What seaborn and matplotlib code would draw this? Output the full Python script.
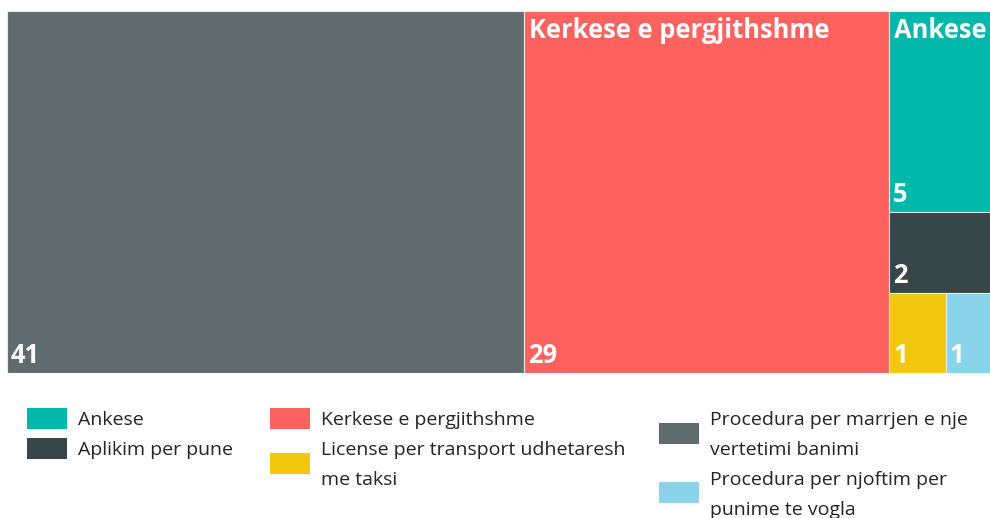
import matplotlib
matplotlib.use("Agg")
import matplotlib.pyplot as plt
from matplotlib.patches import Rectangle
import seaborn as sns

categories = ["Procedura per marrjen e nje vertetimi banimi", "Kerkese e pergjithshme",
              "Ankese", "Aplikim per pune", "License per transport udhetaresh me taksi",
              "Procedura per njoftim per punime te vogla"]
values = [41, 29, 5, 2, 1, 1]
colors = ["#5F6B6D", "#FD625E", "#01B8AA", "#374649", "#F2C80F", "#8AD4EB"]

# legend: three columns, each a list of (category, wrapped label lines)
legend_columns = [
    [("Ankese", ["Ankese"]),
     ("Aplikim per pune", ["Aplikim per pune"])],
    [("Kerkese e pergjithshme", ["Kerkese e pergjithshme"]),
     ("License per transport udhetaresh me taksi", ["License per transport udhetaresh", "me taksi"])],
    [("Procedura per marrjen e nje vertetimi banimi", ["Procedura per marrjen e nje", "vertetimi banimi"]),
     ("Procedura per njoftim per punime te vogla", ["Procedura per njoftim per", "punime te vogla"])],
]

sns.set_theme(style="white")
plt.rcParams['font.family'] = ['Open Sans', 'DejaVu Sans']

FW, FH = 990, 518
W, H = 995.5, 362.0


def worst(row, length):
    s = sum(row)
    thick = s / length
    r = []
    for v in row:
        l = v / thick
        r.append(max(thick / l, l / thick))
    return max(r)


def squarify(vals, x, y, w, h):
    rects = []
    vals = list(vals)
    while vals:
        short = min(w, h)
        row = [vals[0]]
        i = 1
        while i < len(vals) and worst(row + [vals[i]], short) <= worst(row, short):
            row.append(vals[i])
            i += 1
        s = sum(row)
        if w >= h:
            cw = s / h
            cy = y
            for v in row:
                ch = v / cw
                rects.append((x, cy, cw, ch))
                cy += ch
            x += cw
            w -= cw
        else:
            rh = s / w
            cx = x
            for v in row:
                rw = v / rh
                rects.append((cx, y, rw, rh))
                cx += rw
            y += rh
            h -= rh
        vals = vals[i:]
    return rects


total = sum(values)
areas = [v / total * W * H for v in values]
rects = squarify(areas, 0, 0, W, H)

fig = plt.figure(figsize=(FW / 100, FH / 100), dpi=100)
ax = fig.add_axes([7 / FW, 1 - 373 / FH, W / FW, H / FH])
ax.set_xlim(0, W)
ax.set_ylim(H, 0)
ax.axis("off")

fig.canvas.draw()
renderer = fig.canvas.get_renderer()

for cat, val, col, (rx, ry, rw, rh) in zip(categories, values, colors, rects):
    ax.add_patch(Rectangle((rx, ry), rw, rh, facecolor=col, edgecolor="#E8E8E8", lw=0.8))
    t = ax.text(rx + 5, ry + 6, cat, color="white", fontsize=18.4, fontweight="bold",
                va="top", ha="left")
    bb = t.get_window_extent(renderer)
    if bb.width > rw - 6 or bb.height > rh - 40:
        t.remove()
    ax.text(rx + 4, ry + rh - 4, str(val), color="white", fontsize=18.4, fontweight="bold",
            va="bottom", ha="left")

# manual legend (Power BI style: items stack per column, marker centred on item)
col_x = [27, 270, 659]
top_y = 403.5
line_h = 29.8
for cx, items in zip(col_x, legend_columns):
    y = top_y
    for cat, lines in items:
        n = len(lines)
        cyc = y + n * line_h / 2
        col = colors[categories.index(cat)]
        fig.patches.append(Rectangle((cx / FW, 1 - (cyc + 10.5) / FH), 40 / FW, 21 / FH,
                                     facecolor=col, edgecolor="none",
                                     transform=fig.transFigure, figure=fig))
        for k, ln in enumerate(lines):
            lc = y + (k + 0.5) * line_h
            fig.text((cx + 51) / FW, 1 - (lc + 7) / FH, ln, fontsize=14,
                     color="#252423", va="baseline", ha="left")
        y += n * line_h

fig.savefig("out.png", dpi=100)
